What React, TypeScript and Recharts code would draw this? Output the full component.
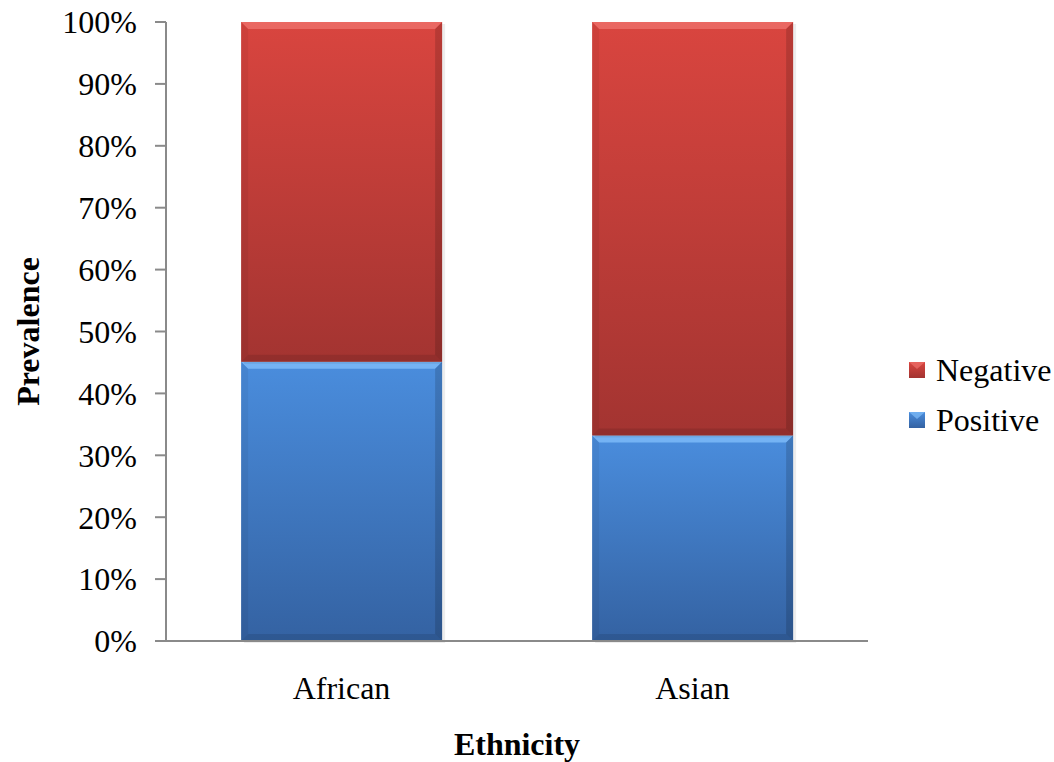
import { BarChart, Bar, XAxis, YAxis, Legend } from "recharts"

const ethnicities = ["African", "Asian"]
const positive = [45.1, 33.2]
const negative = [54.9, 66.8]
const yTicks = [0, 10, 20, 30, 40, 50, 60, 70, 80, 90, 100]

const seriesLabels: Record<string, string> = { positive: "Positive", negative: "Negative" }
const legendOrder = ["negative", "positive"]

const palette: Record<string, { top: string; bottom: string; light: string }> = {
  positive: { top: "#4a8ddd", bottom: "#3462a2", light: "#80bdfa" },
  negative: { top: "#d9453f", bottom: "#a33431", light: "#ee716b" },
}

const data = ethnicities.map((ethnicity, i) => ({
  ethnicity,
  positive: positive[i],
  negative: negative[i],
}))

const font = "Liberation Serif"
const axisColor = "#8a8a8a"

// bar segment with a bevel look, like the old office charts
const BevelBar = (props: any) => {
  const { x, y, width, height, dataKey } = props
  if (!height || height <= 0) return null
  const c = palette[dataKey]
  const b = Math.min(7, height / 2, width / 2)
  const r = x + width
  const btm = y + height
  return (
    <g>
      <rect x={x + 3} y={y + 2} width={width} height={height} fill="rgba(0,0,0,0.07)" />
      <rect x={x} y={y} width={width} height={height} fill={`url(#grad-${dataKey})`} />
      <polygon points={`${x},${y} ${r},${y} ${r - b},${y + b} ${x + b},${y + b}`} fill={c.light} opacity={0.8} />
      <polygon points={`${x},${y} ${x + b},${y + b} ${x + b},${btm - b} ${x},${btm}`} fill="rgba(0,0,0,0.05)" />
      <polygon points={`${r},${y} ${r - b},${y + b} ${r - b},${btm - b} ${r},${btm}`} fill="rgba(0,0,0,0.15)" />
      <polygon points={`${x},${btm} ${x + b},${btm - b} ${r - b},${btm - b} ${r},${btm}`} fill="rgba(0,0,0,0.1)" />
    </g>
  )
}

const LegendBox = ({ payload }: any) => {
  const items = legendOrder
    .map((k) => (payload || []).find((p: any) => p.dataKey === k))
    .filter(Boolean)
  return (
    <div style={{ fontFamily: font, fontSize: 32, color: "#000", whiteSpace: "nowrap" }}>
      {items.map((entry: any) => {
        const c = palette[entry.dataKey]
        return (
          <div key={entry.dataKey} style={{ display: "flex", alignItems: "center", height: 50 }}>
            <svg width={16} height={16} style={{ marginRight: 11 }}>
              <defs>
                <linearGradient id={`lg-${entry.dataKey}`} x1="0" y1="0" x2="0" y2="1">
                  <stop offset="0%" stopColor={c.top} />
                  <stop offset="100%" stopColor={c.bottom} />
                </linearGradient>
              </defs>
              <rect x={0} y={0} width={16} height={16} fill={`url(#lg-${entry.dataKey})`} />
              <polygon points="0,0 16,0 8,7" fill={c.light} opacity={0.7} />
            </svg>
            <span>{seriesLabels[entry.dataKey]}</span>
          </div>
        )
      })}
    </div>
  )
}

const tickStyle = { fill: "#000", fontSize: 32, fontFamily: font }

export default function App() {
  return (
    <div style={{ position: "absolute", left: 0, top: 0, width: 1054, height: 762, background: "#fff", fontFamily: font }}>
      <BarChart
        width={1054}
        height={762}
        data={data}
        margin={{ top: 22, right: 186, bottom: 0, left: 0 }}
        barCategoryGap="21.4%"
      >
        <defs>
          {Object.keys(palette).map((k) => (
            <linearGradient key={k} id={`grad-${k}`} x1="0" y1="0" x2="0" y2="1">
              <stop offset="0%" stopColor={palette[k].top} />
              <stop offset="100%" stopColor={palette[k].bottom} />
            </linearGradient>
          ))}
        </defs>
        <XAxis
          dataKey="ethnicity"
          height={121}
          tickLine={false}
          tickSize={0}
          tickMargin={35}
          axisLine={{ stroke: axisColor, strokeWidth: 2 }}
          tick={tickStyle}
          label={{
            value: "Ethnicity",
            position: "insideBottom",
            offset: 7,
            style: { fill: "#000", fontSize: 32, fontWeight: "bold", fontFamily: font },
          }}
        />
        <YAxis
          width={166}
          domain={[0, 100]}
          ticks={yTicks}
          interval={0}
          tickFormatter={(v) => `${v}%`}
          tickSize={11}
          tickMargin={18}
          tickLine={{ stroke: axisColor, strokeWidth: 2 }}
          axisLine={{ stroke: axisColor, strokeWidth: 2 }}
          tick={tickStyle}
          label={{
            value: "Prevalence",
            angle: -90,
            position: "insideLeft",
            offset: 28,
            style: { fill: "#000", fontSize: 32, fontWeight: "bold", fontFamily: font, textAnchor: "middle" },
          }}
        />
        <Legend
          layout="vertical"
          align="center"
          verticalAlign="middle"
          wrapperStyle={{ left: 909, top: 345, width: 150 }}
          content={<LegendBox />}
        />
        <Bar dataKey="positive" stackId="a" shape={<BevelBar />} isAnimationActive={false} />
        <Bar dataKey="negative" stackId="a" shape={<BevelBar />} isAnimationActive={false} />
      </BarChart>
    </div>
  )
}
